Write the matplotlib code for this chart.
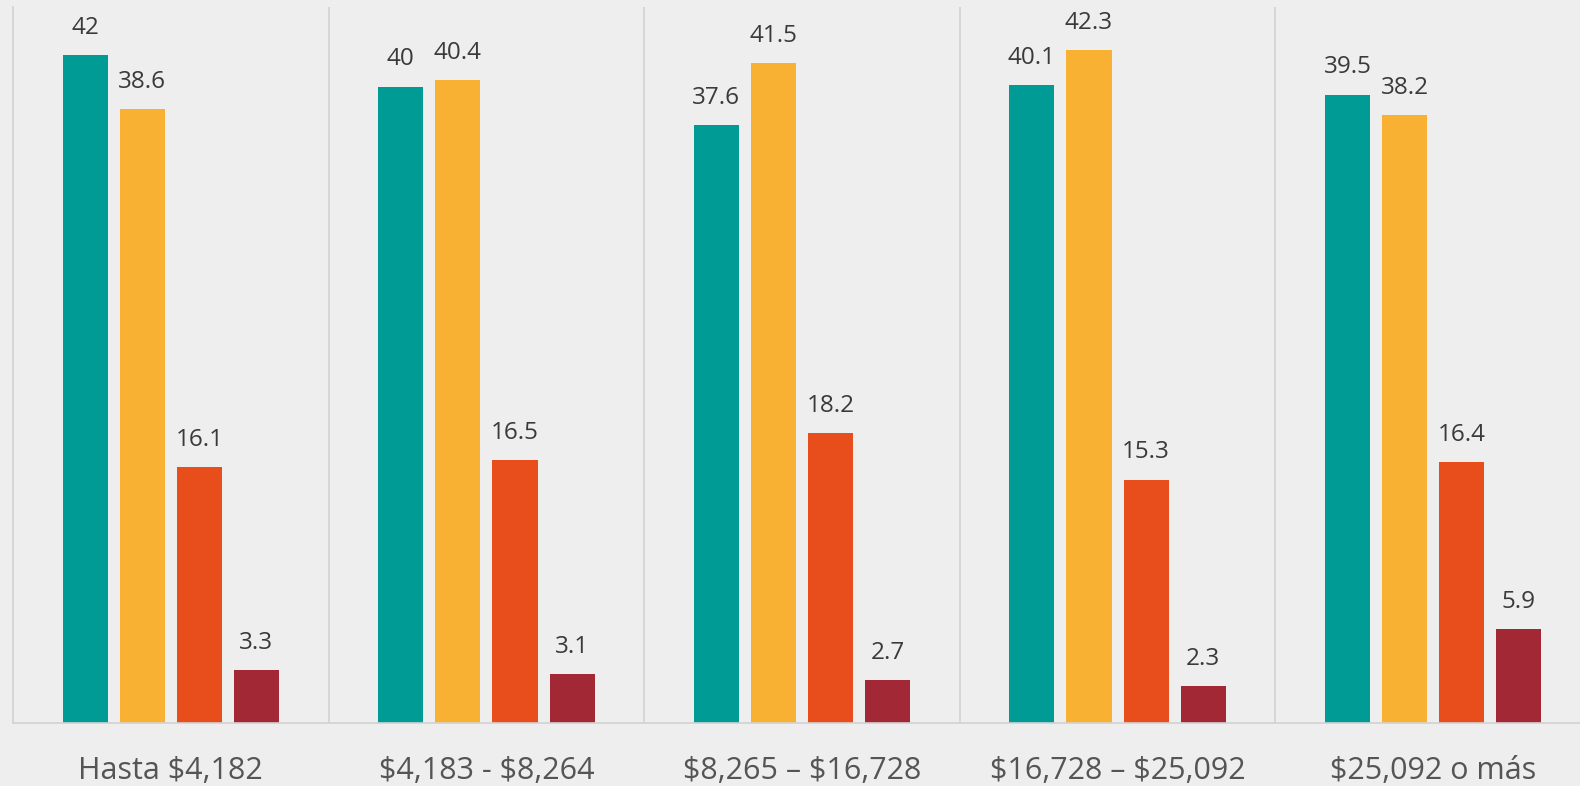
import matplotlib
matplotlib.use("Agg")
import matplotlib.pyplot as plt
import numpy as np

CATEGORIES = ["Hasta $4,182", "$4,183 - $8,264", "$8,265 – $16,728",
              "$16,728 – $25,092", "$25,092 o más"]
SERIES_A = [42, 40, 37.6, 40.1, 39.5]
SERIES_B = [38.6, 40.4, 41.5, 42.3, 38.2]
SERIES_C = [16.1, 16.5, 18.2, 15.3, 16.4]
SERIES_D = [3.3, 3.1, 2.7, 2.3, 5.9]

COLORS = ["#009B95", "#F8B133", "#E84E1C", "#A32836"]
BG = "#EEEEEE"
LINE = "#D2D2D2"
VALUE_INK = "#3A3A3A"
LABEL_INK = "#555555"

plt.rcParams["text.parse_math"] = False
plt.rcParams["font.family"] = ["Open Sans", "DejaVu Sans"]


def main() -> None:
    fig = plt.figure(figsize=(15.8, 7.86), dpi=100, facecolor=BG)
    ax = fig.add_axes([13 / 1580, 1 - 723 / 786, 1578 / 1580, (723 - 7) / 786])
    ax.set_facecolor(BG)

    groups = np.arange(len(CATEGORIES))
    step = 0.181
    width = 0.143
    series = [SERIES_A, SERIES_B, SERIES_C, SERIES_D]
    for i, (values, color) in enumerate(zip(series, COLORS)):
        xs = groups + (i - 1.5) * step
        ax.bar(xs, values, width=width, color=color, zorder=2)
        for x, v in zip(xs, values):
            ax.annotate(f"{v:g}", (x, v), xytext=(0, 19.5), textcoords="offset points",
                        ha="center", va="center", fontsize=17.5, color=VALUE_INK)

    for g, label in zip(groups, CATEGORIES):
        ax.annotate(label, (g, 0), xytext=(0, -34.5), textcoords="offset points",
                    ha="center", va="center", fontsize=22, color=LABEL_INK,
                    annotation_clip=False)

    for b in groups[1:] - 0.5:
        ax.axvline(b, color=LINE, linewidth=1.2, zorder=1)

    ax.set_xlim(-0.5, len(CATEGORIES) - 0.5)
    ax.set_ylim(0, 45)
    ax.set_xticks([])
    ax.set_yticks([])
    for side in ["top", "right"]:
        ax.spines[side].set_visible(False)
    for side in ["left", "bottom"]:
        ax.spines[side].set_color(LINE)
        ax.spines[side].set_linewidth(1.2)

    fig.savefig("out.png", dpi=100, facecolor=BG)
    plt.close(fig)


if __name__ == "__main__":
    main()
